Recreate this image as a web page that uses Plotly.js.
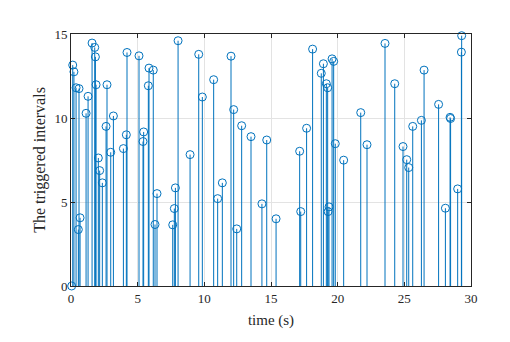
<!DOCTYPE html>
<html>
<head>
<meta charset="utf-8">
<script src="https://cdn.plot.ly/plotly-3.0.1.min.js"></script>
<style>
  body { margin: 0; background: #fff; }
  #graph { width: 510px; height: 342px; }
</style>
</head>
<body>
<div id="graph"></div>
<script>
// trigger times (s) and the interval held at each trigger
var triggerTimes = [
  0.05, 0.13, 0.22, 0.38, 0.55, 0.6, 0.68, 1.13, 1.28, 1.58, 1.78, 1.83, 1.88,
  2.05, 2.15, 2.35, 2.63, 2.7, 2.98, 3.18, 3.93, 4.15, 4.2, 5.1, 5.4, 5.45,
  5.8, 5.85, 6.17, 6.3, 6.45, 7.63, 7.75, 7.83, 8.03, 8.93, 9.58, 9.85, 10.7,
  11.0, 11.35, 12.0, 12.2, 12.43, 12.8, 13.5, 14.32, 14.68, 15.38, 17.15,
  17.23, 17.67, 18.12, 18.77, 18.93, 19.15, 19.25, 19.28, 19.35, 19.58, 19.7,
  19.82, 20.45, 21.73, 22.2, 23.55, 24.28, 24.9, 25.18, 25.33, 25.63, 26.28,
  26.48, 27.57, 28.08, 28.43, 28.47, 29.0, 29.28, 29.3
];
var triggerIntervals = [
  0, 13.15, 12.75, 11.8, 3.36, 11.75, 4.06, 10.28, 11.29, 14.46, 14.2, 13.64, 11.98,
  7.62, 6.87, 6.14, 9.5, 11.98, 7.96, 10.12, 8.18, 9.0, 13.9, 13.7, 8.6, 9.17,
  11.92, 12.97, 12.85, 3.66, 5.5, 3.64, 4.61, 5.84, 14.6, 7.82, 13.79, 11.25, 12.28,
  5.2, 6.14, 13.68, 10.5, 3.4, 9.54, 8.89, 4.89, 8.69, 4.0, 8.02,
  4.43, 9.39, 14.1, 12.66, 13.23, 12.04, 11.8, 4.43, 4.71, 13.52, 13.37,
  8.47, 7.49, 10.32, 8.41, 14.44, 12.04, 8.3, 7.52, 7.05, 9.5, 9.86,
  12.85, 10.81, 4.63, 10.04, 9.97, 5.78, 13.92, 14.9
];
var xTicks = [0, 5, 10, 15, 20, 25, 30];
var yTicks = [0, 5, 10, 15];

var stemColor = '#0072BD';
var serif = 'Liberation Serif';

// stems: vertical segments from 0 up to each value
var stemX = [], stemY = [];
for (var i = 0; i < triggerTimes.length; i++) {
  stemX.push(triggerTimes[i], triggerTimes[i], null);
  stemY.push(0, triggerIntervals[i], null);
}

var data = [
  {
    x: stemX, y: stemY,
    mode: 'lines', type: 'scatter',
    line: { color: stemColor, width: 1 },
    hoverinfo: 'skip', showlegend: false
  },
  {
    x: triggerTimes, y: triggerIntervals,
    mode: 'markers', type: 'scatter',
    marker: { symbol: 'circle-open', size: 8, color: stemColor, line: { width: 1, color: stemColor } },
    cliponaxis: false, showlegend: false
  }
];

var layout = {
  width: 510, height: 342,
  margin: { l: 71, r: 39, t: 34, b: 56 },
  paper_bgcolor: '#ffffff',
  plot_bgcolor: '#ffffff',
  font: { family: serif, size: 13, color: '#262626' },
  xaxis: {
    range: [0, 30],
    tickvals: xTicks,
    ticks: 'inside', ticklen: 4, tickcolor: '#262626',
    showline: true, mirror: 'ticks', linecolor: '#262626', linewidth: 1,
    showgrid: true, gridcolor: '#e3e3e3', zeroline: false,
    tickfont: { family: serif, size: 13, color: '#262626' },
    title: { text: 'time (s)', font: { family: serif, size: 15, color: '#262626' }, standoff: 9 }
  },
  yaxis: {
    range: [0, 15],
    tickvals: yTicks,
    ticks: 'inside', ticklen: 4, tickcolor: '#262626',
    showline: true, mirror: 'ticks', linecolor: '#262626', linewidth: 1,
    showgrid: true, gridcolor: '#e3e3e3', zeroline: false,
    tickfont: { family: serif, size: 13, color: '#262626' },
    title: { text: 'The triggered intervals', font: { family: serif, size: 16, color: '#262626' }, standoff: 4 }
  }
};

Plotly.newPlot('graph', data, layout, { staticPlot: true, displayModeBar: false });
</script>
</body>
</html>
